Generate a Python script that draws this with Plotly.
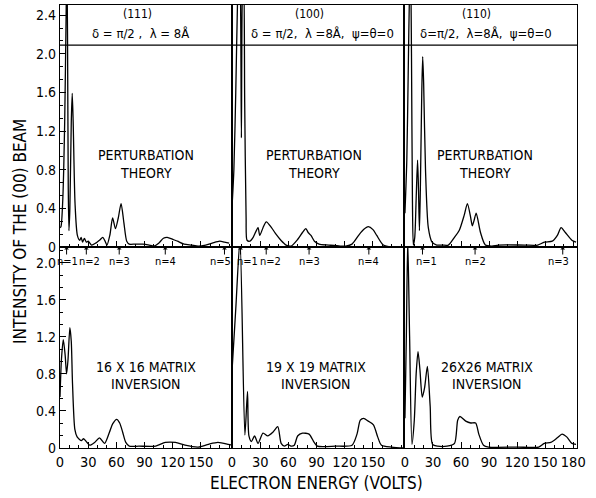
import plotly.graph_objects as go
from plotly.subplots import make_subplots

# ---------------- data ----------------
# (111) perturbation theory
E_111_pt = [0, 1, 3, 5, 6.5, 7.3, 8, 8.8, 9.5, 10.5, 12, 13, 14, 16, 18.5, 21, 22.5, 24, 26, 28, 30, 33.5, 38, 42, 45.6, 48, 50,
            53, 56, 59, 62, 65, 68, 71, 73.7, 80, 88, 95, 100, 105, 110, 114, 120, 125, 132, 140, 147, 155, 162, 170, 175, 180]
I_111_pt = [0.2, 0.21, 0.5, 1.3, 2.4, 2.9, 2.2, 0.6, 0.17, 0.4, 1.3, 1.59, 1.3, 0.45, 0.12, 0.07, 0.1, 0.05, 0.09, 0.05, 0.06, 0.02, 0.04, 0.07, 0.1, 0.06, 0.02,
            0.12, 0.3, 0.19, 0.3, 0.45, 0.25, 0.06, 0.03, 0.03, 0.03, 0.02, 0.01, 0.04, 0.09, 0.1, 0.08, 0.06, 0.03, 0.02, 0.01, 0.02, 0.04, 0.06, 0.05, 0.04]

# (100) perturbation theory
E_100_pt = [0, 2, 4, 6, 7.5, 9, 10, 11, 12.5, 13.5, 15, 16, 19, 22.5, 27.7, 29.5, 33, 36.5, 42, 47, 52, 57.6, 63, 70, 75, 78.6, 81, 84,
            87.7, 92.6, 103, 115, 121, 127.7, 134.7, 140, 145, 150, 154, 161, 170, 183]
I_100_pt = [0.41, 0.8, 1.6, 2.6, 3.0, 2.6, 1.13, 2.6, 2.8, 1.5, 0.3, 0.07, 0.06, 0.1, 0.2, 0.12, 0.2, 0.26, 0.2, 0.13, 0.07, 0.02, 0.01, 0.08, 0.15, 0.19, 0.15, 0.12,
            0.06, 0.03, 0.02, 0.01, 0.01, 0.03, 0.12, 0.18, 0.21, 0.18, 0.12, 0.02, 0.0, 0.0]

# (110) perturbation theory
E_110_pt = [0, 2, 3.5, 5, 6, 7, 8, 9, 10.5, 12, 13.5, 14.5, 15.5, 16.5, 18, 19, 20, 22, 25, 29, 34, 40, 46.4, 53, 58, 63.4, 66.8, 70.4, 72,
            73.8, 76.2, 80.8, 86, 93, 100, 128, 142, 149, 157.6, 163, 167, 171.5, 178.5, 183]
I_110_pt = [0.35, 0.9, 1.8, 2.7, 2.9, 2.0, 0.5, 0.02, 0.1, 0.5, 0.9, 0.6, 0.17, 0.6, 1.6, 1.97, 1.7, 0.8, 0.2, 0.05, 0.02, 0.02, 0.02, 0.1, 0.17, 0.33, 0.45, 0.3, 0.22,
            0.27, 0.35, 0.15, 0.02, 0.01, 0.02, 0.02, 0.02, 0.05, 0.06, 0.12, 0.2, 0.15, 0.07, 0.05]

# (111) 16x16 matrix inversion
E_111_mi = [0, 1.5, 3.5, 5.5, 7, 8.5, 10.5, 12, 13.3, 15.8, 18.2, 22.8, 25, 28.8, 31.6, 36.8, 42, 47.4, 52.6, 56, 60.3, 63.5, 66.7, 70, 73.7,
            84, 101.8, 112, 122.8, 133, 147, 158, 168, 179, 183]
I_111_mi = [0.55, 0.95, 1.17, 1.0, 0.8, 0.95, 1.3, 1.15, 0.7, 0.2, 0.12, 0.08, 0.1, 0.06, 0.03, 0.06, 0.11, 0.05, 0.17, 0.26, 0.31, 0.27, 0.17, 0.06, 0.02,
            0.02, 0.02, 0.06, 0.06, 0.03, 0.01, 0.04, 0.06, 0.04, 0.03]

# (100) 19x19 matrix inversion
E_100_mi = [0, 4, 8.5, 13.7, 16.5, 18, 20.7, 24, 27.7, 33, 38, 43.5, 48.7, 52.3, 55.8, 59.3, 62.8, 66.3, 69.8, 75, 82, 87.4, 90.8, 110,
            127.7, 133, 136.5, 140, 145, 150.5, 155, 159, 170, 183]
I_100_mi = [0.83, 1.5, 2.25, 0.14, 0.61, 0.13, 0.07, 0.13, 0.05, 0.16, 0.13, 0.17, 0.23, 0.05, 0.02, 0.04, 0.02, 0.03, 0.13, 0.16, 0.15, 0.06, 0.02, 0.02,
            0.03, 0.15, 0.3, 0.32, 0.29, 0.25, 0.12, 0.03, 0.01, 0.0]

# (110) 26x26 matrix inversion
E_110_mi = [0, 1.5, 3, 5, 7.5, 10, 12, 14, 16, 18.5, 21, 24, 27, 29.5, 35, 45, 53, 56.4, 58.8, 65, 70.4, 75.6, 79, 84, 89.5,
            120, 143, 149, 156, 163, 168, 173, 178.5, 183]
I_110_mi = [0.32, 1.2, 2.25, 1.2, 0.04, 0.3, 0.8, 1.04, 0.85, 0.55, 0.65, 0.88, 0.45, 0.04, 0.02, 0.02, 0.05, 0.3, 0.34, 0.29, 0.27, 0.27, 0.15, 0.03, 0.01,
            0.01, 0.01, 0.05, 0.06, 0.11, 0.15, 0.12, 0.05, 0.04]

# Bragg-order markers
n_labels_111 = ["n=1", "n=2", "n=3", "n=4", "n=5"]
n_energy_111 = [7, 28, 63, 112, 175]
n_labels_100 = ["n=1", "n=2", "n=3", "n=4"]
n_energy_100 = [9.1, 36.4, 82, 145.6]
n_labels_110 = ["n=1", "n=2", "n=3"]
n_energy_110 = [18.75, 75, 168.75]

faces = ["(111)", "(100)", "(110)"]
params = ["δ = π/2 ,  λ = 8Å", "δ = π/2,  λ =8Å,  ψ=θ=0", "δ=π/2,  λ=8Å,  ψ=θ=0"]
bottom_names = [["16 X 16 MATRIX", "INVERSION"], ["19 X 19 MATRIX", "INVERSION"], ["26X26 MATRIX", "INVERSION"]]

top_yticks = [0, 0.4, 0.8, 1.2, 1.6, 2.0, 2.4]
top_yticktext = ["0", "0.4", "0.8", "1.2", "1.6", "2.0", "2.4"]
bot_yticks = [0, 0.4, 0.8, 1.2, 1.6, 2.0]
bot_yticktext = ["0", "0.4", "0.8", "1.2", "1.6", "2.0"]
xticks_lm = [0, 30, 60, 90, 120, 150]
xticks_r = [0, 30, 60, 90, 120, 150, 180]

# ---------------- figure ----------------
FONT = "Liberation Sans Narrow, Arial Narrow, DejaVu Sans Condensed, sans-serif"
W, H = 596, 498
L, R, T, B = 60, 19, 5, 50
PW, PH = W - L - R, H - T - B

fig = make_subplots(rows=2, cols=3, horizontal_spacing=0, vertical_spacing=0)

curves = [
    (1, 1, E_111_pt, I_111_pt), (1, 2, E_100_pt, I_100_pt), (1, 3, E_110_pt, I_110_pt),
    (2, 1, E_111_mi, I_111_mi), (2, 2, E_100_mi, I_100_mi), (2, 3, E_110_mi, I_110_mi),
]
for r, c, e, i in curves:
    fig.add_trace(go.Scatter(x=e, y=i, mode="lines",
                             line=dict(color="black", width=1.3, shape="spline", smoothing=0.7),
                             showlegend=False, hoverinfo="skip"), row=r, col=c)

xb = [60, 232, 404, 577]
xdom = [((xb[k] - L) / PW, (xb[k + 1] - L) / PW) for k in range(3)]
ysplit = (448 - 247) / PH
ydom = [(ysplit, 1.0), (0.0, ysplit)]
xranges = [[0, 183], [0, 183], [-1, 184]]
yranges = [[0, 2.505], [0, 2.17]]

axis_common = dict(showgrid=False, zeroline=False, showline=True, linecolor="black",
                   linewidth=1.2, mirror=True, automargin=False)
tickfont = dict(family=FONT, size=14, color="black")
xtickfont = dict(family=FONT, size=14.5, color="black")

for r in (1, 2):
    for c in (1, 2, 3):
        idx = (r - 1) * 3 + c
        xa = "xaxis" if idx == 1 else f"xaxis{idx}"
        ya = "yaxis" if idx == 1 else f"yaxis{idx}"
        xt = xticks_r if c == 3 else xticks_lm
        fig.layout[xa].update(domain=xdom[c - 1], range=xranges[c - 1], **axis_common,
                              tickvals=xt, ticktext=[str(v) for v in xt], tickangle=0,
                              ticks="inside", ticklen=6, tickwidth=1, tickcolor="black",
                              minor=dict(dtick=10, tick0=0, ticks="inside", ticklen=3, tickcolor="black"),
                              showticklabels=(r == 2), tickfont=xtickfont)
        if c == 1:
            yt, ytt = (top_yticks, top_yticktext) if r == 1 else (bot_yticks, bot_yticktext)
            fig.layout[ya].update(domain=ydom[r - 1], range=yranges[r - 1], **axis_common,
                                  tickvals=yt, ticktext=ytt, ticks="inside", ticklen=6,
                                  tickwidth=1, tickcolor="black",
                                  minor=dict(dtick=0.4 / 3, tick0=0, ticks="inside", ticklen=3, tickcolor="black"),
                                  showticklabels=True, tickfont=tickfont)
        else:
            fig.layout[ya].update(domain=ydom[r - 1], range=yranges[r - 1], **axis_common,
                                  showticklabels=False, ticks="")

annotations = []
txtfont = dict(family=FONT, size=14, color="black")
C = dict(xanchor="center", yanchor="middle", showarrow=False)
# headers
header_x = [[82, 86], [82, 96], [77, 87]]
for c in range(3):
    xr = "x" if c == 0 else f"x{c + 1}"
    yr = "y" if c == 0 else f"y{c + 1}"
    annotations.append(dict(x=header_x[c][0], y=2.41, xref=xr, yref=yr, text=faces[c],
                            font=dict(family=FONT, size=12, color="black"), **C))
    annotations.append(dict(x=header_x[c][1], y=2.21, xref=xr, yref=yr, text=params[c],
                            font=dict(family=FONT, size=13, color="black"), **C))
# PERTURBATION THEORY
pt_x = [91.5, 87, 86]
for c in range(3):
    xr = "x" if c == 0 else f"x{c + 1}"
    yr = "y" if c == 0 else f"y{c + 1}"
    annotations.append(dict(x=pt_x[c], y=0.95, xref=xr, yref=yr, text="PERTURBATION", font=txtfont, **C))
    annotations.append(dict(x=pt_x[c], y=0.77, xref=xr, yref=yr, text="THEORY", font=txtfont, **C))
# matrix inversion labels
mi_x = [91, 89, 87.5]
for c in range(3):
    xr = f"x{c + 4}"
    yr = f"y{c + 4}"
    annotations.append(dict(x=mi_x[c], y=0.87, xref=xr, yref=yr, text=bottom_names[c][0], font=txtfont, **C))
    annotations.append(dict(x=mi_x[c], y=0.69, xref=xr, yref=yr, text=bottom_names[c][1], font=txtfont, **C))
# n markers: vertical arrow + label
label_shift = [[1, 3, 0, 0, -4], [7, 4, 0, 0], [4, 0, -4]]
for c, (labs, ens) in enumerate([(n_labels_111, n_energy_111), (n_labels_100, n_energy_100),
                                  (n_labels_110, n_energy_110)]):
    xr = f"x{c + 4}"
    yr = f"y{c + 4}"
    for k, (lab, en) in enumerate(zip(labs, ens)):
        annotations.append(dict(x=en, y=2.17, xref=xr, yref=yr, text="", showarrow=True,
                                ax=0, ay=9, arrowhead=1, arrowsize=0.8, arrowwidth=1,
                                arrowcolor="black", standoff=0, startstandoff=0))
        annotations.append(dict(x=en, y=2.17, xref=xr, yref=yr, text=lab, xanchor="center",
                                yanchor="middle", showarrow=False, yshift=-14,
                                xshift=label_shift[c][k],
                                font=dict(family=FONT, size=11, color="black")))
# axis titles
annotations.append(dict(x=(20 - L) / PW, y=(448 - 232) / PH, xref="paper", yref="paper",
                        text="INTENSITY OF THE (00) BEAM", textangle=-90,
                        font=dict(family=FONT, size=17, color="black"), **C))
annotations.append(dict(x=(316 - L) / PW, y=(448 - 483) / PH, xref="paper", yref="paper",
                        text="ELECTRON ENERGY (VOLTS)",
                        font=dict(family=FONT, size=17, color="black"), **C))

fig.update_layout(
    width=W, height=H,
    margin=dict(l=L, r=R, t=T, b=B, autoexpand=False),
    paper_bgcolor="white", plot_bgcolor="white",
    annotations=annotations,
    shapes=[dict(type="line", xref="paper", yref="y", x0=0, x1=1, y0=2.09, y1=2.09,
                 line=dict(color="black", width=1.1))],
    font=dict(family=FONT, color="black"),
)

fig.write_html("out.html", config={"displayModeBar": False},
               post_script="document.body.style.margin='0';document.body.style.overflow='hidden';")
